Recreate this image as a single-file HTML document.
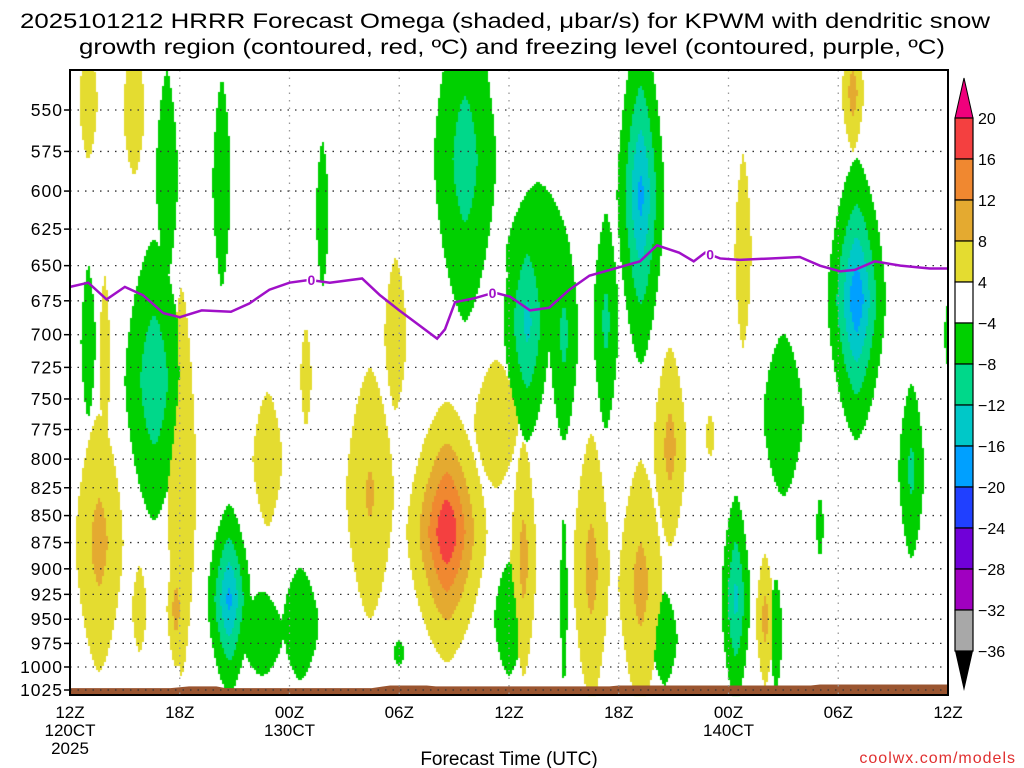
<!DOCTYPE html>
<html><head><meta charset="utf-8"><style>
html,body{margin:0;padding:0;background:#fff;width:1024px;height:768px;overflow:hidden}
#wrap{position:relative;width:1024px;height:768px}
canvas,svg{position:absolute;left:0;top:0}
</style></head><body>
<div id="wrap">
<canvas id="shade" width="1024" height="768"></canvas>
<svg id="chartsvg" width="1024" height="768" xmlns="http://www.w3.org/2000/svg"></svg>
</div>
<script>
// ---- data ----
const pressureTicks = [550,575,600,625,650,675,700,725,750,775,800,825,850,875,900,925,950,975,1000,1025];
const timeTickHours = [0,6,12,18,24,30,36,42,48];
const timeTickLabels = ["12Z","18Z","00Z","06Z","12Z","18Z","00Z","06Z","12Z"];
const colorLevels = [20,16,12,8,4,-4,-8,-12,-16,-20,-24,-28,-32,-36];
// omega features: hour, pressure center, half-width (h), half-height (mb), peak (ubar/s)
const blobHour = [1.0,3.5,1.6,1.9,3.8,6.1,5.8,10.8,12.9,16.4,17.8,20.6,23.3,24.8,28.5,31.2,32.8,35,38.0,36.8,42.8,
  1.0,5.3,4.6,8.3,8.7,12.6,10.5,13.8,18,21.6,25.0,29.3,25.6,27.0,24,27,31.2,36.4,39,41,43,46,48,38.6,32.5];
const blobPres = [545,550,875,720,940,820,940,800,733,830,700,865,770,890,900,915,790,780,950,640,540,
  705,590,735,595,930,955,965,615,985,580,690,690,645,700,950,930,603,930,763,860,674,810,700,965,970];
const blobHalfH = [0.5,0.6,1.3,0.3,0.4,0.8,0.5,0.8,0.3,1.3,0.6,2.2,1.2,0.7,1.0,1.2,0.9,0.25,0.5,0.45,0.6,
  0.4,0.6,1.6,0.5,1.2,1.0,1.2,0.35,0.3,1.7,1.3,0.7,1.8,0.8,0.8,0.2,1.3,0.8,1.1,0.2,1.6,0.7,0.2,0.35,0.7];
const blobHalfP = [35,40,130,70,45,190,60,60,40,120,60,130,55,120,140,130,90,18,70,70,35,
  60,70,120,70,100,60,45,50,14,110,95,85,55,85,60,90,120,110,70,28,110,80,25,60,50];
const blobPeak = [6,6,9.5,5,6,6,10,6,5,8.5,5,19.5,6,9.5,9.5,9.5,9.5,5,9.5,6,10,
  -6,-5,-11,-5,-17,-6,-6,-6,-5,-10,-13,-9,-6,-9,-6,-5,-17,-13,-6,-5,-19,-9,-6,-6,-5.5];
const freezeHour = [0,1,2,3,4,5.1,6,7.2,8.8,9.8,10.9,12,13.1,14.2,15.97,16.95,18,19.1,20.07,20.5,21.05,22.15,23.2,24.06,25.15,26.2,27.3,28.4,30.07,31.16,32.09,33.3,34.1,34.72,35.54,36.63,38.3,39.9,41,42.1,42.9,44,45.4,47,48];
const freezePres = [665,662,674,665,671,684,687,682,683,677,667,662,660,662,659,671,682,693,703,696,676,673,669,672,682,680,667,657,651,647,636,641,647,641,645,646,645,644,650,654,653,647,650,652,652];
const freezeLabelHours = [13.2,23.1,35];
const groundHour = [0,5.5,6.5,8,8.5,16.5,17.5,19.5,20,29.5,30,40.5,41,48];
const groundPres = [1023,1023,1021,1021,1023,1023,1020,1020,1021,1021,1020,1020,1019,1019];

// ---- scales ----
const X0=70,X1=948,Y0=70,Y1=695;
const xs=h=>X0+h*(X1-X0)/48;
const LN0=Math.log(550),KY=580/Math.log(1025/550);
const ys=p=>110+(Math.log(p)-LN0)*KY;
const colors={20:'#f0007c',16:'#f44040',12:'#f08830',8:'#e4aa30',4:'#e4dc30',0:'#ffffff',
 '-4':'#00d000','-8':'#00d88a','-12':'#00c8c8','-16':'#00a0ff','-20':'#2040ff','-24':'#7000d8','-28':'#a000c0','-32':'#a8a8a8','-36':'#000000'};
function colorFor(v){
  if(v>=20)return colors[20]; if(v>=16)return colors[16]; if(v>=12)return colors[12]; if(v>=8)return colors[8]; if(v>=4)return colors[4];
  if(v>-4)return null; if(v>-8)return colors[-4]; if(v>-12)return colors[-8]; if(v>-16)return colors[-12]; if(v>-20)return colors[-16];
  if(v>-24)return colors[-20]; if(v>-28)return colors[-24]; if(v>-32)return colors[-28]; if(v>-36)return colors[-32]; return colors[-36];
}
// ---- shading ----
const sctx=document.getElementById('shade').getContext('2d');
const bx=blobHour.map(xs), by=blobPres.map(ys);
const bsx=blobHalfH.map(h=>h*(X1-X0)/48);
const bsy=blobPres.map((p,i)=>ys(p+blobHalfP[i])-ys(p));
const bk=blobPeak.map(a=>Math.log(Math.abs(a)/4));
const STEP=2, PN=1.5, PQ=1.5;
for(let px=X0;px<X1;px+=STEP){
  for(let py=Y0;py<Y1;py+=STEP){
    let vp=0,vn=0;const cx=px+1,cy=py+1;
    for(let i=0;i<bx.length;i++){
      const dx=Math.abs((cx-bx[i])/bsx[i]),dy=Math.abs((cy-by[i])/bsy[i]);
      if(dx>1.5||dy>1.5)continue;
      const rad=Math.pow(Math.pow(dx,PN)+Math.pow(dy,PN),1/PN);
      const v=blobPeak[i]*Math.exp(-bk[i]*Math.pow(rad,PQ));
      if(v>vp)vp=v; if(v<vn)vn=v;
    }
    const c=colorFor(vp>=-vn?vp:vn);
    if(c){sctx.fillStyle=c;sctx.fillRect(px,py,STEP,STEP);}
  }
}
// ---- svg ----
const NS='http://www.w3.org/2000/svg',svgRoot=document.getElementById('chartsvg');
function el(tag,attrs,parent){const e=document.createElementNS(NS,tag);for(const k in attrs)e.setAttribute(k,attrs[k]);(parent||svgRoot).appendChild(e);return e;}
const FONT='"Liberation Sans", "DejaVu Sans", sans-serif';
// ground
let gd='M'+xs(0)+','+Y1;
groundHour.forEach((h,i)=>{gd+=' L'+xs(h)+','+ys(groundPres[i]);});
gd+=' L'+xs(48)+','+Y1+' Z';
const ground=el('path',{d:gd,fill:'#9a5530'});


// grid
pressureTicks.forEach(p=>{
  const g=el('line',{x1:X0,x2:X1,y1:ys(p),y2:ys(p),stroke:'#333','stroke-width':1.3,'stroke-dasharray':'1.5 6'});
  
  
  const t=el('line',{x1:X0-6,x2:X0,y1:ys(p),y2:ys(p),stroke:'#000','stroke-width':1.5});
  
  
  const lb=el('text',{x:X0-7,y:ys(p)+6,'text-anchor':'end','font-family':FONT,'font-size':17.5,fill:'#000','letter-spacing':'1'});
  lb.textContent=p;
  
  
});
timeTickHours.forEach((h,i)=>{
  if(i>0&&i<timeTickHours.length-1){
    const g=el('line',{x1:xs(h),x2:xs(h),y1:Y0,y2:Y1,stroke:'#999','stroke-width':1.3,'stroke-dasharray':'1.5 6'});
    
    
  }
  const lb=el('text',{x:xs(h),y:718,'text-anchor':'middle','font-family':FONT,'font-size':17,fill:'#000'});
  lb.textContent=timeTickLabels[i];
  
  
});
[['120CT',736,0],['2025',754,0],['130CT',736,12],['140CT',736,36]].forEach(a=>{
  const t=el('text',{x:xs(a[2]),y:a[1],'text-anchor':'middle','font-family':FONT,'font-size':17,fill:'#000'});
  t.textContent=a[0];
  
  
});
// freezing line
const fl=el('polyline',{points:freezeHour.map((h,i)=>xs(h)+','+ys(freezePres[i])).join(' '),fill:'none',stroke:'#a010c8','stroke-width':2.5});


function interpP(h){for(let i=1;i<freezeHour.length;i++){if(h<=freezeHour[i]){const f=(h-freezeHour[i-1])/(freezeHour[i]-freezeHour[i-1]);return freezePres[i-1]+f*(freezePres[i]-freezePres[i-1]);}}return freezePres[freezePres.length-1];}
freezeLabelHours.forEach(h=>{
  const x=xs(h),y=ys(interpP(h));
  const t=el('text',{x:x,y:y+5,'text-anchor':'middle','font-family':FONT,'font-size':14,'font-weight':'bold',fill:'#a010c8',stroke:'#fff','stroke-width':3,'paint-order':'stroke'});
  t.textContent='0';
  
  
});
// frame
const fr=el('rect',{x:X0,y:Y0,width:X1-X0,height:Y1-Y0,fill:'none',stroke:'#000','stroke-width':2});


// colorbar
const CBX=955,CBW=18,CBT=118,CBH=41;
const cbTop=el('polygon',{points:`${CBX},${CBT} ${CBX+CBW},${CBT} ${CBX+CBW/2},${CBT-40}`,fill:colors[20],stroke:'#000','stroke-width':1});


const boxVals=[16,12,8,4,0,-4,-8,-12,-16,-20,-24,-28,-32];
boxVals.forEach((v,i)=>{
  const r=el('rect',{x:CBX,y:CBT+i*CBH,width:CBW,height:CBH,fill:colors[v],stroke:'#000','stroke-width':1.2});
  
  
});
const cbBot=CBT+boxVals.length*CBH;
const cbBtm=el('polygon',{points:`${CBX},${cbBot} ${CBX+CBW},${cbBot} ${CBX+CBW/2},${cbBot+40}`,fill:'#000'});


colorLevels.forEach((v,i)=>{
  const t=el('text',{x:978,y:CBT+i*CBH+6,'font-family':FONT,'font-size':16,fill:'#000'});
  t.textContent=v<0?'\u2212'+(-v):String(v);
  
  
});
// titles
const t1=el('text',{x:505,y:28,'text-anchor':'middle','font-family':FONT,'font-size':21,fill:'#000',textLength:970,lengthAdjust:'spacingAndGlyphs'});
t1.textContent='2025101212 HRRR Forecast Omega (shaded, \u03bcbar/s) for KPWM with dendritic snow';


const t2=el('text',{x:512,y:54,'text-anchor':'middle','font-family':FONT,'font-size':21,fill:'#000',textLength:866,lengthAdjust:'spacingAndGlyphs'});
t2.textContent='growth region (contoured, red, \u00baC) and freezing level (contoured, purple, \u00baC)';


const xt=el('text',{x:509,y:765,'text-anchor':'middle','font-family':FONT,'font-size':19,fill:'#000'});
xt.textContent='Forecast Time (UTC)';


const cr=el('text',{x:1016,y:763,'text-anchor':'end','font-family':FONT,'font-size':16,fill:'#e03030','letter-spacing':'1'});
cr.textContent='coolwx.com/models';


</script>
</body></html>
